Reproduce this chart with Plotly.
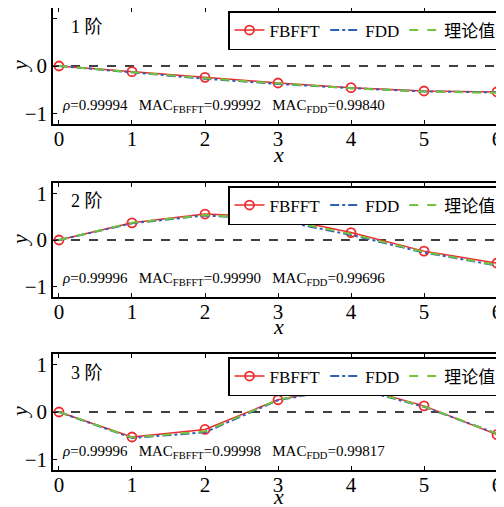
import plotly.graph_objects as go

x_vals = [0, 1, 2, 3, 4, 5, 6]

fbfft_1 = [0.0, -0.12, -0.24, -0.36, -0.46, -0.53, -0.55]
fdd_1 = [0.0, -0.14, -0.27, -0.38, -0.47, -0.54, -0.56]
theory_1 = [0.0, -0.13, -0.26, -0.37, -0.47, -0.54, -0.57]

fbfft_2 = [0.0, 0.37, 0.56, 0.49, 0.16, -0.24, -0.50]
fdd_2 = [0.0, 0.36, 0.53, 0.43, 0.11, -0.27, -0.55]
theory_2 = [0.0, 0.37, 0.54, 0.45, 0.13, -0.26, -0.54]

fbfft_3 = [0.0, -0.53, -0.37, 0.26, 0.56, 0.13, -0.48]
fdd_3 = [0.0, -0.55, -0.43, 0.25, 0.53, 0.11, -0.46]
theory_3 = [0.0, -0.54, -0.41, 0.26, 0.54, 0.12, -0.46]

panel_labels = ["1 阶", "2 阶", "3 阶"]
stats = [
    ("0.99994", "0.99992", "0.99840"),
    ("0.99996", "0.99990", "0.99696"),
    ("0.99996", "0.99998", "0.99817"),
]
series_names = ["FBFFT", "FDD", "理论值"]

# the page body adds an 8px margin, so the figure is drawn 8px in from the window edge
OFF = 8
W, H = 504 - OFF, 507 - OFF
FONT = "Times New Roman, Liberation Serif, Noto Sans CJK SC, serif"
RED = "#ee2a2a"
BLUE = "#2d5fb8"
GREEN = "#72c43e"

# window-pixel boxes (top, bottom) of each panel
boxes = [(8, 124), (183, 297), (354, 470)]
xtitle_px = [154, 326, 496]
left_px, right_px = 53, 502


def px_x(p):
    return min(1.0, max(0.0, (p - OFF) / W))


def px_y(p):
    return min(1.0, max(0.0, 1 - (p - OFF) / H))


fig = go.Figure()
panels = [(fbfft_1, fdd_1, theory_1), (fbfft_2, fdd_2, theory_2), (fbfft_3, fdd_3, theory_3)]

for i, (fb, fd, th) in enumerate(panels):
    k = "" if i == 0 else str(i + 1)
    xa, ya = "x" + k, "y" + k
    lg = "legend" + k
    fig.add_trace(go.Scatter(x=x_vals, y=fb, mode="lines+markers", name=series_names[0],
                             line=dict(color=RED, width=1.5),
                             marker=dict(symbol="circle-open", size=9, color=RED, line=dict(width=1.8)),
                             xaxis=xa, yaxis=ya, legend=lg, legendrank=1))
    fig.add_trace(go.Scatter(x=x_vals, y=fd, mode="lines", name=series_names[1],
                             line=dict(color=BLUE, width=2, dash="dashdot"),
                             xaxis=xa, yaxis=ya, legend=lg, legendrank=2))
    fig.add_trace(go.Scatter(x=x_vals, y=th, mode="lines", name=series_names[2],
                             line=dict(color=GREEN, width=2, dash="dash"),
                             xaxis=xa, yaxis=ya, legend=lg, legendrank=3))

    top, bot = boxes[i]
    axis_common = dict(showline=True, linecolor="black", linewidth=1.5, mirror="ticks",
                       ticks="inside", ticklen=4, tickcolor="black", showgrid=False,
                       zeroline=False, automargin=False,
                       tickfont=dict(family=FONT, size=21, color="black"))
    fig.layout["xaxis" + k] = dict(domain=[px_x(left_px), px_x(right_px)], anchor=ya,
                                   range=[-0.082, 6.068], tickvals=x_vals,
                                   ticklabelstandoff=-5, **axis_common)
    fig.layout["yaxis" + k] = dict(domain=[px_y(bot), px_y(top)], anchor=xa, range=[-1.23, 1.23],
                                   tickvals=[-1, 0, 1], **axis_common)
    fig.add_annotation(xref="paper", yref="paper", x=px_x(278), y=px_y(xtitle_px[i]),
                       xanchor="center", yanchor="middle", showarrow=False,
                       text="<i>x</i>", font=dict(family=FONT, size=22, color="black"))
    fig.add_annotation(xref="paper", yref=ya, x=px_x(19), y=0,
                       xanchor="center", yanchor="middle", showarrow=False, textangle=-90,
                       text="<i>y</i>", font=dict(family=FONT, size=22, color="black"))
    fig.add_shape(type="line", xref=xa + " domain", yref=ya, x0=0, x1=1, y0=0, y1=0,
                  line=dict(color="black", width=1.5, dash="dash"), layer="below")
    fig.add_annotation(xref=xa + " domain", yref=ya + " domain", x=0.035, y=0.84,
                       xanchor="left", yanchor="middle", showarrow=False,
                       text=panel_labels[i], font=dict(family=FONT, size=18, color="black"))
    rho, m1, m2 = stats[i]
    fig.add_annotation(xref=xa, yref=ya, x=0.02, y=-0.84, xanchor="left", yanchor="middle",
                       showarrow=False,
                       text=f"<i>ρ</i>={rho}   MAC<sub>FBFFT</sub>={m1}   MAC<sub>FDD</sub>={m2}",
                       font=dict(family=FONT, size=15, color="black"))
    fig.layout[lg] = dict(orientation="h", x=px_x(right_px), xanchor="right",
                          y=px_y(top + 3), yanchor="top", yref="paper",
                          bgcolor="white", bordercolor="black", borderwidth=1.5,
                          font=dict(family=FONT, size=17, color="black"),
                          itemwidth=30, traceorder="normal", tracegroupgap=0)

fig.update_layout(width=W, height=H, margin=dict(l=0, r=0, t=0, b=0),
                  plot_bgcolor="white", paper_bgcolor="white",
                  font=dict(family=FONT, color="black"))

fig.write_html("out.html")
